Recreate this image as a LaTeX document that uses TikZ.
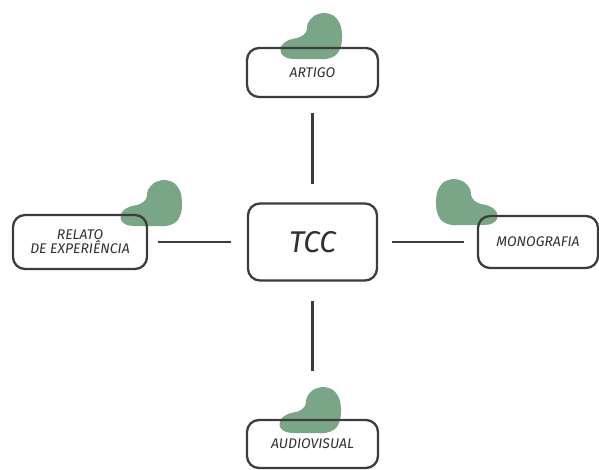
\documentclass[tikz,border=0pt]{standalone}
\usepackage{fontspec}
\setmainfont{Fira Sans}
\definecolor{leaf}{RGB}{122,166,136}
\definecolor{ink}{RGB}{60,60,60}
\tikzset{
	box/.style={draw=ink, line width=2.3pt, rounded corners=12pt, inner sep=0pt, align=center, text=ink!80!black, font=\itshape\fontsize{14}{16}\selectfont},
	link/.style={draw=ink, line width=2.3pt},
	blob/.pic={\fill[leaf] plot[smooth cycle, tension=0.55] coordinates {(12,23) (22,20) (28,12) (30,2) (29,-10) (24,-19) (14,-23) (0,-23) (-14,-23) (-25,-22) (-31,-17) (-30,-9) (-23,-4) (-12,-1) (-6,4) (-4,13) (2,20)};}
}

\begin{document}
\begin{tikzpicture}[x=1pt, y=1pt]
			\useasboundingbox (0,0) rectangle (599,469);
			
			% Blobs behind the boxes
			\pic at (312,433) {blob};
			\pic at (152,266) {blob};
			\pic[xscale=-1] at (466,267) {blob};
			\pic at (311,59) {blob};
			
			% Define nodes
			\node[box, minimum width=129pt, minimum height=77pt, font=\itshape\fontsize{30}{34}\selectfont] (tcc) at (312.5,227) {TCC};
			\node[box, minimum width=131pt, minimum height=49pt] (artigo) at (312.5,396.5) {ARTIGO};
			\node[box, minimum width=134pt, minimum height=54pt] (relato) at (80,227) {RELATO\\[-2pt]DE EXPERIÊNCIA};
			\node[box, minimum width=120pt, minimum height=52pt] (mono) at (538,227) {MONOGRAFIA};
			\node[box, minimum width=131pt, minimum height=48pt] (audio) at (312.5,25) {AUDIOVISUAL};
			
			% Connect the nodes
			\draw[link, shorten <=18.5pt, shorten >=15pt] (tcc) -- (artigo);
			\draw[link, shorten <=19.5pt, shorten >=48pt] (tcc) -- (audio);
			\draw[link, shorten <=15.5pt, shorten >=10pt] (tcc) -- (relato);
			\draw[link, shorten <=13.5pt, shorten >=13pt] (tcc) -- (mono);
			
\end{tikzpicture}
\end{document}
